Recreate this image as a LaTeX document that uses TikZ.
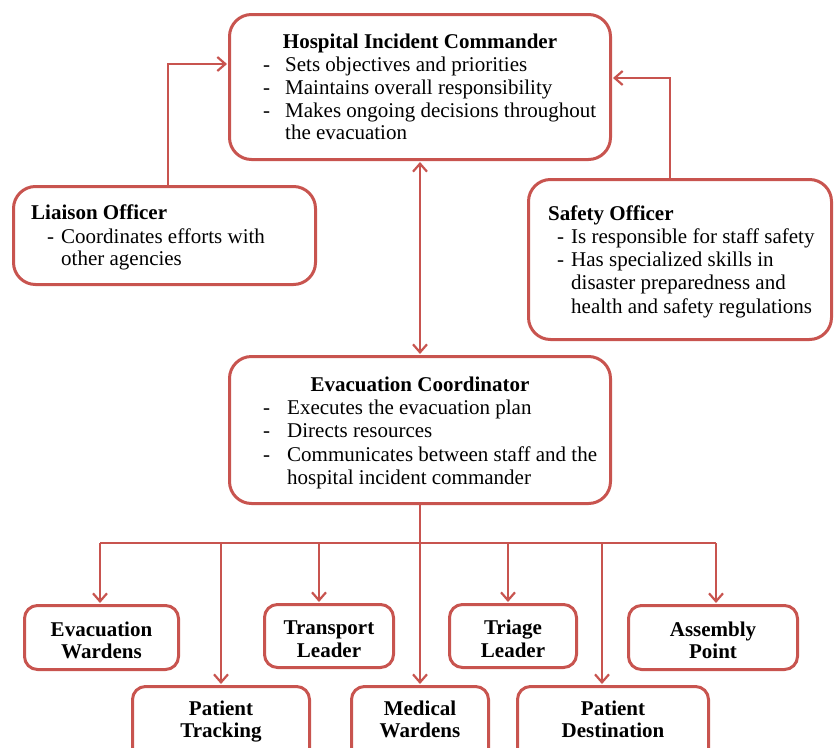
\documentclass[tikz,border=0pt]{standalone}
\usepackage{fontspec}
\setmainfont{Liberation Serif}
\usetikzlibrary{arrows.meta}
\definecolor{acc}{RGB}{200,84,79}
\begin{document}
\begin{tikzpicture}[x=1pt,y=-1pt,
  >={Straight Barb[length=8pt,width=14pt,line width=2.2pt]},
  box/.style={draw=acc, line width=3pt, rounded corners=22pt, inner sep=0pt},
  sbox/.style={draw=acc, line width=3pt, rounded corners=13pt, inner sep=0pt},
  conn/.style={draw=acc, line width=1.4pt},
  ttl/.style={font=\fontsize{21}{23}\selectfont\bfseries, inner sep=0pt, anchor=base},
  ttll/.style={font=\fontsize{21}{23}\selectfont\bfseries, inner sep=0pt, anchor=base west},
  txt/.style={font=\fontsize{21}{23}\selectfont, inner sep=0pt, anchor=base west},
]
\useasboundingbox (0,0) rectangle (835,747);

% ---------- boxes ----------
\node[box, minimum width=381pt, minimum height=145pt] (hic) at (420,87) {};
\node[box, minimum width=302pt, minimum height=98pt]  (lo)  at (164.5,235.5) {};
\node[box, minimum width=303pt, minimum height=160pt] (so)  at (680,259.5) {};
\node[box, minimum width=381pt, minimum height=147pt] (ec)  at (420,430) {};

\node[sbox, minimum width=154pt, minimum height=64pt] (ew) at (101.5,637.5) {};
\node[sbox, minimum width=129pt, minimum height=63pt] (tl) at (329,636) {};
\node[sbox, minimum width=127pt, minimum height=63pt] (tr) at (513,636) {};
\node[sbox, minimum width=169pt, minimum height=64pt] (ap) at (713,637.5) {};
\node[sbox, minimum width=177pt, minimum height=77pt] (pt) at (221,725) {};
\node[sbox, minimum width=137pt, minimum height=77pt] (mw) at (420,725) {};
\node[sbox, minimum width=191pt, minimum height=77pt] (pd) at (613,725) {};

% ---------- texts ----------
\node[ttl] (hic-t) at (420,48) {Hospital Incident Commander};
\node[txt] (hic-d1) at (263,71) {-};
\node[txt] (hic-1) at (285,71) {Sets objectives and priorities};
\node[txt] (hic-d2) at (263,94) {-};
\node[txt] (hic-2) at (285,94) {Maintains overall responsibility};
\node[txt] (hic-d3) at (263,117) {-};
\node[txt] (hic-3) at (285,117) {Makes ongoing decisions throughout};
\node[txt] (hic-4) at (285,139) {the evacuation};

\node[ttll] (lo-t) at (31,219) {Liaison Officer};
\node[txt] (lo-d1) at (47,243) {-};
\node[txt] (lo-1) at (61,243) {Coordinates efforts with};
\node[txt] (lo-2) at (61,265) {other agencies};

\node[ttll] (so-t) at (548,220) {Safety Officer};
\node[txt] (so-d1) at (557,243) {-};
\node[txt] (so-1) at (571,243) {Is responsible for staff safety};
\node[txt] (so-d2) at (557,266) {-};
\node[txt] (so-2) at (571,266) {Has specialized skills in};
\node[txt] (so-3) at (571,289) {disaster preparedness and};
\node[txt] (so-4) at (571,313) {health and safety regulations};

\node[ttl] (ec-t) at (420,391) {Evacuation Coordinator};
\node[txt] (ec-d1) at (263,414) {-};
\node[txt] (ec-1) at (287,414) {Executes the evacuation plan};
\node[txt] (ec-d2) at (263,437) {-};
\node[txt] (ec-2) at (287,437) {Directs resources};
\node[txt] (ec-d3) at (263,461) {-};
\node[txt] (ec-3) at (287,461) {Communicates between staff and the};
\node[txt] (ec-4) at (287,484) {hospital incident commander};

\node[ttl] (ew-1) at (101.5,636) {Evacuation};
\node[ttl] (ew-2) at (101.5,658) {Wardens};
\node[ttl] (tl-1) at (329,634) {Transport};
\node[ttl] (tl-2) at (329,657) {Leader};
\node[ttl] (tr-1) at (513,634) {Triage};
\node[ttl] (tr-2) at (513,657) {Leader};
\node[ttl] (ap-1) at (713,636) {Assembly};
\node[ttl] (ap-2) at (713,658) {Point};
\node[ttl] (pt-1) at (221,715) {Patient};
\node[ttl] (pt-2) at (221,737) {Tracking};
\node[ttl] (mw-1) at (420,715) {Medical};
\node[ttl] (mw-2) at (420,737) {Wardens};
\node[ttl] (pd-1) at (613,715) {Patient};
\node[ttl] (pd-2) at (613,737) {Destination};

% ---------- connectors ----------
\coordinate (l1) at (168,64);
\draw[conn,->,shorten >=1pt] (l1 |- lo.north) -- (l1) -- (l1 -| hic.west);
\coordinate (s1) at (670,78);
\draw[conn,->,shorten >=1pt] (s1 |- so.north) -- (s1) -- (s1 -| hic.east);
\draw[conn,<->,shorten >=1pt,shorten <=1pt] (hic.south) -- (ec.north);

\coordinate (bus) at (420,543);
\coordinate (bl) at (100,543);
\coordinate (br) at (716,543);
\draw[conn] (ec.south) -- (bus);
\draw[conn] (bl) -- (br);
\coordinate (b2) at (221,543);
\coordinate (b3) at (319,543);
\coordinate (b5) at (508,543);
\coordinate (b6) at (602,543);
\draw[conn,->,shorten >=1pt] (bl) -- (bl |- ew.north);
\draw[conn,->,shorten >=1pt] (b2) -- (b2 |- pt.north);
\draw[conn,->,shorten >=1pt] (b3) -- (b3 |- tl.north);
\draw[conn,->,shorten >=1pt] (bus) -- (bus |- mw.north);
\draw[conn,->,shorten >=1pt] (b5) -- (b5 |- tr.north);
\draw[conn,->,shorten >=1pt] (b6) -- (b6 |- pd.north);
\draw[conn,->,shorten >=1pt] (br) -- (br |- ap.north);
\end{tikzpicture}
\end{document}
